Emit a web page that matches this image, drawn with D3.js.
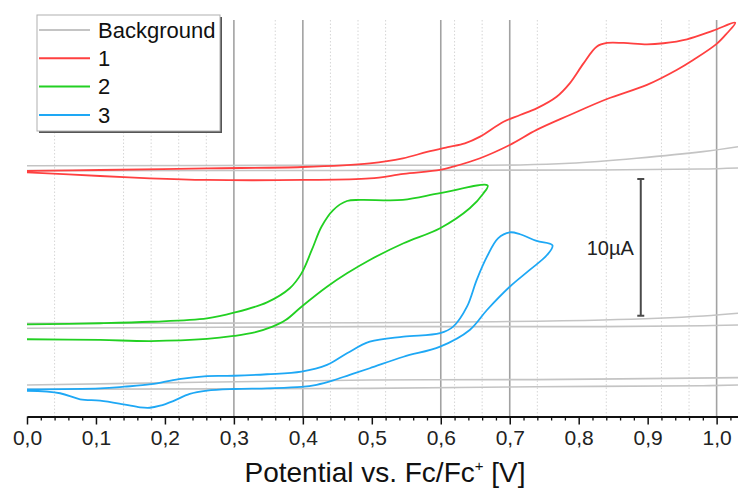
<!DOCTYPE html>
<html>
<head>
<meta charset="utf-8">
<script src="https://cdn.jsdelivr.net/npm/d3@7"></script>
<style>
  html, body { margin: 0; padding: 0; background: #fff; }
  svg { display: block; font-family: Arial, "Liberation Sans", sans-serif; }
</style>
</head>
<body>
<svg id="chart" width="738" height="488"></svg>
<script>
// Cyclic voltammograms, stacked with a vertical offset (current in µA, offset per trace)
// Each trace: forward scan followed by the reverse scan, [potential V, current µA]
const cv1Forward = [[0,17.96],[0.106,18.03],[0.261,18.15],[0.399,18.25],[0.497,18.52],[0.545,18.88],[0.580,19.35],[0.610,19.70],[0.635,19.98],[0.657,20.47],[0.691,21.56],[0.715,22.05],[0.739,22.54],[0.768,23.39],[0.787,24.37],[0.807,25.83],[0.826,27.05],[0.841,27.32],[0.865,27.32],[0.899,27.22],[0.923,27.30],[0.957,27.59],[0.995,28.22],[1.027,28.80]];
const cv1Reverse = [[1.015,28.03],[1.0,27.25],[0.966,26.07],[0.942,25.34],[0.899,24.25],[0.841,23.22],[0.787,22.05],[0.739,20.96],[0.700,19.86],[0.657,18.89],[0.618,18.27],[0.599,18.03],[0.546,17.74],[0.497,17.41],[0.399,17.30],[0.261,17.30],[0.178,17.42],[0.106,17.59],[0,17.85]];

const cv2Forward = [[0,6.74],[0.106,6.82],[0.180,6.93],[0.261,7.18],[0.300,7.59],[0.348,8.35],[0.381,9.38],[0.398,10.47],[0.413,12.18],[0.427,13.88],[0.444,15.10],[0.464,15.76],[0.483,15.84],[0.545,15.84],[0.599,16.33],[0.668,16.90]];
const cv2Reverse = [[0.662,16.33],[0.642,15.23],[0.599,13.77],[0.546,12.67],[0.497,11.45],[0.464,10.47],[0.435,9.49],[0.398,8.03],[0.375,7.05],[0.355,6.55],[0.330,6.15],[0.300,5.89],[0.261,5.67],[0.180,5.52],[0.106,5.60],[0,5.65]];

const cv3Forward = [[0,1.99],[0.106,2.06],[0.141,2.18],[0.180,2.36],[0.220,2.74],[0.261,2.96],[0.300,2.98],[0.348,3.09],[0.398,3.28],[0.435,3.77],[0.464,4.62],[0.497,5.47],[0.546,5.84],[0.599,6.09],[0.618,6.57],[0.638,8.03],[0.652,9.98],[0.667,11.69],[0.683,13.03],[0.700,13.47],[0.715,13.33],[0.739,12.84],[0.762,12.51]];
const cv3Reverse = [[0.754,11.81],[0.729,10.72],[0.700,9.49],[0.667,7.79],[0.642,6.33],[0.599,5.11],[0.546,4.37],[0.497,3.53],[0.468,3.05],[0.444,2.64],[0.420,2.32],[0.398,2.16],[0.348,2.06],[0.300,2.01],[0.261,1.89],[0.236,1.65],[0.212,1.13],[0.193,0.79],[0.178,0.64],[0.164,0.67],[0.140,0.89],[0.106,1.16],[0.077,1.26],[0.048,1.70],[0,1.87]];

// Blank electrolyte scans under each trace
const bg1Forward = [[0,18.34],[0.5,18.38],[0.715,18.40],[0.787,18.52],[0.884,18.89],[0.980,19.37],[1.031,19.73]];
const bg1Reverse = [[1.031,18.18],[0.976,18.10],[0.831,18.03],[0,17.98]];
const bg2Forward = [[0,6.82],[0.497,6.86],[0.835,7.06],[0.981,7.35],[1.031,7.55]];
const bg2Reverse = [[1.031,6.69],[0.980,6.64],[0.835,6.57],[0.497,6.57],[0,6.45]];
const bg3Forward = [[0,2.30],[0.25,2.50],[0.497,2.67],[0.739,2.70],[1.031,2.84]];
const bg3Reverse = [[1.031,2.30],[0.980,2.25],[0.739,2.18],[0.497,2.06],[0,1.99]];

const legendNames = ["Background", "1", "2", "3"];
const seriesColors = ["#c4c4c4", "#ff4040", "#22d022", "#1ea8f5"];

const majorTicks = [0, 0.1, 0.2, 0.3, 0.4, 0.5, 0.6, 0.7, 0.8, 0.9, 1.0];
const minorTicks = d3.range(0, 1.031, 0.02).filter(v => Math.abs(v * 10 - Math.round(v * 10)) > 1e-6);
const solidGrid = [0.3, 0.4, 0.6, 0.7, 1.0];
const dottedGrid = [0.04, 0.14, 0.18, 0.22, 0.26, 0.36, 0.44, 0.48, 0.52, 0.62, 0.66, 0.74, 0.84, 0.92, 0.96];

// Scale bar: 10 µA, placed at 0.89 V
const scaleBarPotential = 0.890;
const scaleBarBase = 7.37;
const scaleBarSpan = 10;
const scaleBarLabel = "10µA";

const xTitle = "Potential vs. Fc/Fc";

const svg = d3.select("#chart");
const x = d3.scaleLinear().domain([0, 1.031]).range([27, 738]);
const y = d3.scaleLinear().domain([0, 29]).range([416.5, 20]);
const plotTop = y(29), plotBottom = y(0);

svg.append("defs").append("clipPath").attr("id", "plot-clip")
  .append("rect").attr("x", x(0) - 2).attr("y", 0).attr("width", x(1.031) - x(0) + 2).attr("height", plotBottom);

// grid
const grid = svg.append("g");
grid.selectAll("line.dot").data(dottedGrid).join("line")
  .attr("x1", d => x(d)).attr("x2", d => x(d))
  .attr("y1", plotTop).attr("y2", plotBottom)
  .attr("stroke", "#d6d6d6").attr("stroke-width", 1)
  .attr("stroke-dasharray", "1.5,2");
grid.selectAll("line.solid").data(solidGrid).join("line")
  .attr("x1", d => x(d)).attr("x2", d => x(d))
  .attr("y1", plotTop).attr("y2", plotBottom)
  .attr("stroke", "#a2a2a2").attr("stroke-width", 1.6);

const line = d3.line().x(d => x(d[0])).y(d => y(d[1])).curve(d3.curveCatmullRom.alpha(0.5));
const plot = svg.append("g").attr("clip-path", "url(#plot-clip)");

const bgScans = [bg1Forward, bg1Reverse, bg2Forward, bg2Reverse, bg3Forward, bg3Reverse];
plot.append("g").selectAll("path").data(bgScans).join("path")
  .attr("d", line).attr("fill", "none")
  .attr("stroke", seriesColors[0]).attr("stroke-width", 1.6);

const scans = [cv1Forward.concat(cv1Reverse), cv2Forward.concat(cv2Reverse), cv3Forward.concat(cv3Reverse)];
plot.append("g").selectAll("path").data(scans).join("path")
  .attr("d", line).attr("fill", "none")
  .attr("stroke", (d, i) => seriesColors[i + 1]).attr("stroke-width", 1.8)
  .attr("stroke-linejoin", "round");

// x axis
const fmt = d => d3.format(".1f")(d).replace(".", ",");
const axisG = svg.append("g").attr("transform", `translate(0,${plotBottom})`);
axisG.call(d3.axisBottom(x).tickValues(majorTicks).tickFormat(fmt).tickSizeInner(8).tickSizeOuter(0));
axisG.select(".domain").attr("stroke", "#111").attr("stroke-width", 2);
axisG.selectAll(".tick line").attr("stroke", "#111").attr("stroke-width", 1.5);
axisG.selectAll(".tick text")
  .attr("font-size", 21).attr("font-family", "Arial, 'Liberation Sans', sans-serif")
  .attr("fill", "#222").attr("dy", null).attr("y", 28.5);
const minorG = svg.append("g").attr("transform", `translate(0,${plotBottom})`);
minorG.call(d3.axisBottom(x).tickValues(minorTicks).tickFormat("").tickSizeInner(4).tickSizeOuter(0));
minorG.select(".domain").remove();
minorG.selectAll(".tick line").attr("stroke", "#111").attr("stroke-width", 1.3);

// axis title
const title = svg.append("text")
  .attr("x", 385).attr("y", 482)
  .attr("text-anchor", "middle").attr("font-size", 28).attr("fill", "#111");
title.append("tspan").text(xTitle);
title.append("tspan").attr("font-size", 15).attr("dy", -11).text("+");
title.append("tspan").attr("dy", 11).text(" [V]");

// scale bar
const sb = svg.append("g").attr("stroke", "#4a4a4a").attr("stroke-width", 2);
const sbx = x(scaleBarPotential);
sb.append("line").attr("x1", sbx).attr("x2", sbx).attr("y1", y(scaleBarBase)).attr("y2", y(scaleBarBase + scaleBarSpan));
[scaleBarBase, scaleBarBase + scaleBarSpan].forEach(v => {
  sb.append("line").attr("x1", sbx - 3.5).attr("x2", sbx + 3.5).attr("y1", y(v)).attr("y2", y(v));
});
svg.append("text")
  .attr("x", sbx - 7).attr("y", (y(scaleBarBase) + y(scaleBarBase + scaleBarSpan)) / 2 + 7.5)
  .attr("text-anchor", "end").attr("font-size", 20).attr("fill", "#222").text(scaleBarLabel);

// legend
const lg = svg.append("g").attr("transform", "translate(37,15)");
lg.append("rect").attr("x", 2).attr("y", 2).attr("width", 183).attr("height", 116).attr("fill", "#555");
lg.append("rect").attr("x", 0).attr("y", 0).attr("width", 183).attr("height", 116)
  .attr("fill", "#fff").attr("stroke", "#b0b0b0").attr("stroke-width", 1);
const rows = lg.selectAll("g.row").data(legendNames).join("g")
  .attr("transform", (d, i) => `translate(0,${15 + i * 28.3})`);
rows.append("line").attr("x1", 2).attr("x2", 53).attr("y1", 0).attr("y2", 0)
  .attr("stroke", (d, i) => seriesColors[i]).attr("stroke-width", 2);
rows.append("text").attr("x", 61).attr("y", 7.8)
  .attr("font-size", 22).attr("fill", "#111").text(d => d);
</script>
</body>
</html>
